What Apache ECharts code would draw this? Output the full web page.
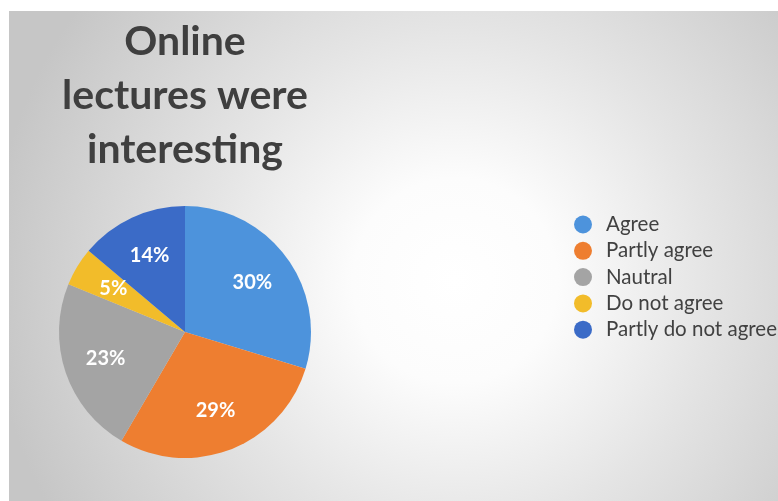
<!DOCTYPE html>
<html>
<head>
<meta charset="utf-8">
<script src="https://cdn.jsdelivr.net/npm/echarts@6/dist/echarts.min.js"></script>
<style>
html,body{margin:0;padding:0;background:#ffffff;}
#chart{width:778px;height:501px;}
</style>
</head>
<body>
<div id="chart"></div>
<script>
const titleText = 'Online\nlectures were\ninteresting';
const categories = ['Agree', 'Partly agree', 'Nautral', 'Do not agree', 'Partly do not agree'];
const values = [30, 29, 23, 5, 14];
const sliceColors = ['#4d93dc', '#ee7e30', '#a4a4a4', '#f2bc2a', '#3b6bc7'];

const CX = 185, CY = 332, R = 126;

const chart = echarts.init(document.getElementById('chart'));
chart.setOption({
  animation: false,
  backgroundColor: '#ffffff',
  graphic: [{
    type: 'rect',
    z: -10,
    silent: true,
    shape: { x: 9, y: 11, width: 769, height: 490 },
    style: {
      fill: new echarts.graphic.RadialGradient(0.58, 0.55, 0.95, [
        { offset: 0, color: '#ffffff' },
        { offset: 0.22, color: '#fcfcfc' },
        { offset: 0.55, color: '#e4e4e4' },
        { offset: 1, color: '#c6c6c6' }
      ])
    }
  }],
  title: {
    text: titleText,
    left: 180,
    top: 10,
    textAlign: 'center',
    textStyle: {
      fontFamily: 'Lato',
      fontWeight: 'bold',
      fontSize: 41,
      lineHeight: 54,
      color: '#3f3f3f'
    }
  },
  legend: {
    orient: 'vertical',
    left: 569,
    top: 209,
    icon: 'circle',
    itemWidth: 36,
    itemHeight: 18,
    itemGap: 5.3,
    data: categories,
    textStyle: {
      fontFamily: 'Lato',
      fontSize: 20.5,
      lineHeight: 21,
      color: '#414141'
    }
  },
  series: [{
    type: 'pie',
    center: [CX, CY],
    radius: R,
    startAngle: 90,
    clockwise: true,
    silent: true,
    itemStyle: { borderWidth: 0 },
    label: {
      show: true,
      position: 'inside',
      formatter: '{c}%',
      color: '#ffffff',
      fontFamily: 'Lato',
      fontWeight: 'bold',
      fontSize: 20
    },
    labelLayout: function (p) {
      const r = p.labelRect;
      const lx = r.x + r.width / 2, ly = r.y + r.height / 2;
      return { dx: (lx - CX) * 0.27, dy: (ly - CY) * 0.27 };
    },
    labelLine: { show: false },
    data: categories.map(function (c, i) {
      return { name: c, value: values[i], itemStyle: { color: sliceColors[i] } };
    })
  }]
});
</script>
</body>
</html>
